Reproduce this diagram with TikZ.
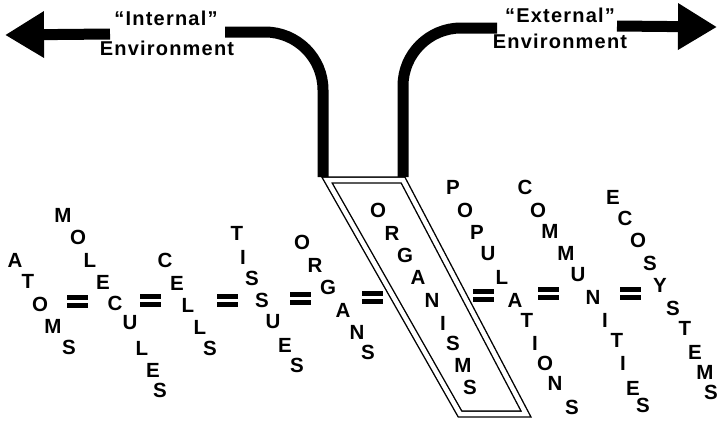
\documentclass[tikz,border=0pt]{standalone}
\usepackage{fontspec}
\setmainfont{Liberation Sans}
\newfontfamily\envfont[LetterSpace=6]{Liberation Sans}
\usetikzlibrary{arrows.meta}
\begin{document}
\begin{tikzpicture}[x=1pt,y=-1pt,
  ltr/.style={font=\fontsize{20.5}{20.5}\selectfont\bfseries, inner sep=0pt, anchor=center},
  envtext/.style={font=\envfont\fontsize{20}{20}\selectfont\bfseries, inner sep=0pt, anchor=base},
  pipe/.style={line width=11pt, rounded corners=58pt},
  bigarrow/.style={line width=11pt, -{Triangle[width=44pt,length=39pt]}},
  boxline/.style={double, line width=1.4pt, double distance=4.5pt},
  eqbar/.style={fill=black}]
\useasboundingbox (0,0) rectangle (718,423);

% labels
\node[envtext] (intq) at (166,25) {“Internal”};
\node[envtext] (intenv) at (167,55) {Environment};
\node[envtext] (extq) at (560,22) {“External”};
\node[envtext] (extenv) at (560,48) {Environment};

% arrows
\coordinate (lshaft) at (110,34);
\coordinate (ltip) at (5,35);
\coordinate (rshaft) at (617,26);
\coordinate (rtip) at (717,27);
\draw[bigarrow] (lshaft) -- (ltip);
\draw[bigarrow] (rshaft) -- (rtip);

% pipes
\coordinate (lpA) at (225,32);
\coordinate (lpB) at (323,177);
\coordinate (rpA) at (497,28);
\coordinate (rpB) at (403,177);
\draw[pipe] (lpA) -| (lpB);
\draw[pipe] (rpB) |- (rpA);

% organisms box
\coordinate (b1) at (327,180);
\coordinate (b2) at (403,180);
\coordinate (b3) at (526,414);
\coordinate (b4) at (460,414);
\draw[boxline] (b1) -- (b2) -- (b3) -- (b4) -- cycle;

% equals signs
\foreach \x/\y [count=\i] in {77/301,150/300,227/300,300/298,372/297,483/295,548/293,630/293}{
  \coordinate (eq\i) at (\x,\y);
  \fill[eqbar] ([shift={(-10.5,-6.5)}]eq\i) rectangle ++(21,5);
  \fill[eqbar] ([shift={(-10.5,1.5)}]eq\i) rectangle ++(21,5);
}

% words
\foreach \c/\x/\y [count=\i] in {A/15/260,T/28/281,O/40/304,M/53/326,S/69/347}
  \node[ltr] (atoms\i) at (\x,\y) {\c};
\foreach \c/\x/\y [count=\i] in {M/63/215,O/78/237,L/90/260,E/103/282,C/115/303,U/130/323,L/142/348,E/153/370,S/160/390}
  \node[ltr] (molecules\i) at (\x,\y) {\c};
\foreach \c/\x/\y [count=\i] in {C/165/260,E/177/283,L/188/305,L/200/327,S/210/348}
  \node[ltr] (cells\i) at (\x,\y) {\c};
\foreach \c/\x/\y [count=\i] in {T/237/233,I/243/257,S/252/278,S/262/300,U/273/322,E/285/345,S/297/365}
  \node[ltr] (tissues\i) at (\x,\y) {\c};
\foreach \c/\x/\y [count=\i] in {O/302/242,R/315/265,G/328/287,A/343/310,N/357/332,S/368/352}
  \node[ltr] (organs\i) at (\x,\y) {\c};
\foreach \c/\x/\y [count=\i] in {O/378/210,R/392/233,G/405/255,A/418/277,N/432/300,I/443/323,S/453/343,M/463/365,S/470/387}
  \node[ltr] (organisms\i) at (\x,\y) {\c};
\foreach \c/\x/\y [count=\i] in {P/453/187,O/465/210,P/477/232,U/488/254,L/502/277,A/515/300,T/527/320,I/535/343,O/545/363,N/555/383,S/572/407}
  \node[ltr] (populations\i) at (\x,\y) {\c};
\foreach \c/\x/\y [count=\i] in {C/525/187,O/538/210,M/550/231,M/566/253,U/578/275,N/593/297,I/605/320,T/617/340,I/623/363,E/633/388,S/643/405}
  \node[ltr] (communities\i) at (\x,\y) {\c};
\foreach \c/\x/\y [count=\i] in {E/613/197,C/625/218,O/638/240,S/650/263,Y/660/285,S/673/308,T/685/328,E/695/352,M/705/372,S/711/392}
  \node[ltr] (ecosystems\i) at (\x,\y) {\c};
\end{tikzpicture}
\end{document}
